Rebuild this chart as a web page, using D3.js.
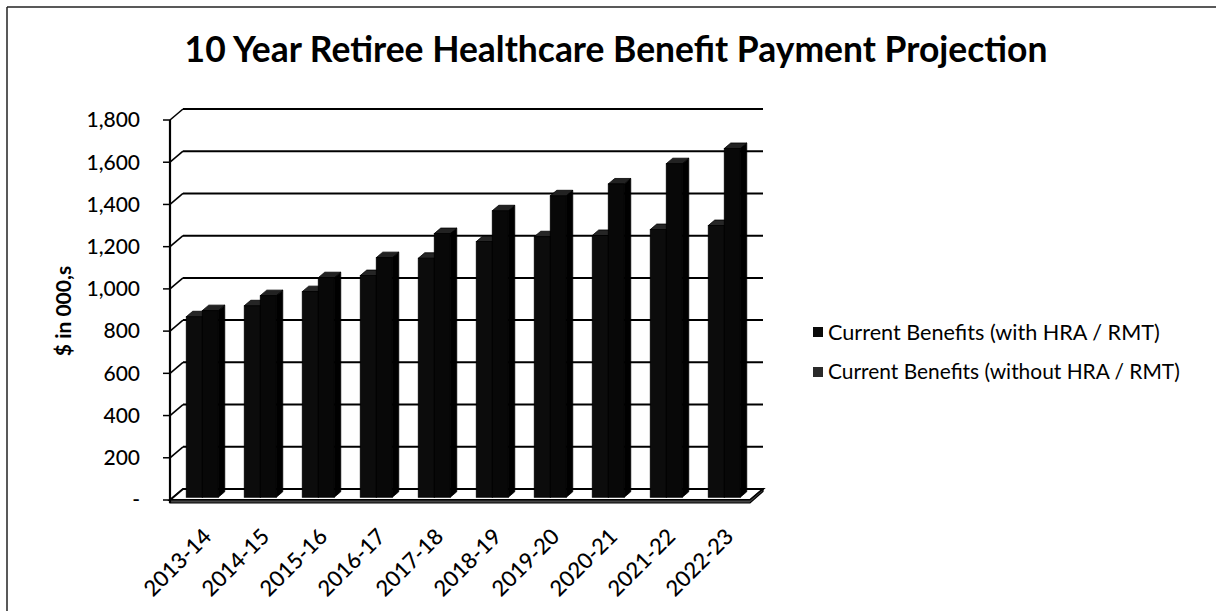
<!DOCTYPE html>
<html>
<head>
<meta charset="utf-8">
<script src="https://cdn.jsdelivr.net/npm/d3@7"></script>
<style>
  html, body { margin: 0; padding: 0; background: #fff; }
  svg { display: block; }
  text { font-family: Lato, "Open Sans", sans-serif; fill: #000; }
</style>
</head>
<body>
<svg id="chart" width="1216" height="611"></svg>
<script>
const titleText = "10 Year Retiree Healthcare Benefit Payment Projection";
const yAxisTitle = "$ in 000,s";
const categories = ["2013-14","2014-15","2015-16","2016-17","2017-18","2018-19","2019-20","2020-21","2021-22","2022-23"];
const seriesNames = ["Current Benefits (with HRA / RMT)", "Current Benefits (without HRA / RMT)"];
const withHRA    = [855, 907, 974, 1050, 1132, 1211, 1234, 1240, 1268, 1287];
const withoutHRA = [884, 955, 1040, 1135, 1249, 1357, 1428, 1484, 1580, 1652];
const yTicks = [0, 200, 400, 600, 800, 1000, 1200, 1400, 1600, 1800];

const svg = d3.select("#chart");

// frame
svg.append("line").attr("x1", 7).attr("y1", 7).attr("x2", 1216).attr("y2", 7)
  .attr("stroke", "#222").attr("stroke-width", 1.5);
svg.append("line").attr("x1", 7).attr("y1", 7).attr("x2", 7).attr("y2", 611)
  .attr("stroke", "#222").attr("stroke-width", 1.5);

function fitWidth(sel, target) {
  const w = sel.node().getComputedTextLength();
  const fs = parseFloat(sel.attr("font-size"));
  sel.attr("font-size", fs * target / w);
}

// title
const title = svg.append("text").attr("x", 616).attr("y", 62)
  .attr("text-anchor", "middle").attr("font-weight", "bold").attr("font-size", 34)
  .text(titleText);
fitWidth(title, 863);

// scales
const xLeft = 170, xRight = 750;
const x = d3.scaleBand().domain(categories).range([xLeft, xRight])
  .paddingInner(0.448).paddingOuter(0.224);
const xs = d3.scaleBand().domain([0, 1]).range([0, x.bandwidth()]);
const y = d3.scaleLinear().domain([0, 1800]).range([500, 120]);
const D = { dx: 13, dy: -11 };
const fr = { dx: D.dx * 0.25, dy: D.dy * 0.25 };
const bk = { dx: D.dx * 0.75, dy: D.dy * 0.75 };

const g = svg.append("g");

// back wall gridlines and left wall diagonals
yTicks.forEach(v => {
  const yy = y(v);
  if (v > 0) {
    g.append("line").attr("x1", xLeft + D.dx).attr("x2", xRight + D.dx)
      .attr("y1", yy + D.dy).attr("y2", yy + D.dy)
      .attr("stroke", "#000").attr("stroke-width", 2);
  }
  g.append("path")
    .attr("d", `M${xLeft},${yy} L${xLeft + D.dx},${yy + D.dy}`)
    .attr("stroke", "#000").attr("stroke-width", 1.6).attr("fill", "none");
  g.append("line").attr("x1", xLeft - 7).attr("x2", xLeft).attr("y1", yy).attr("y2", yy)
    .attr("stroke", "#000").attr("stroke-width", 1.5);
});

// floor
g.append("path")
  .attr("d", `M${xLeft},${y(0)} L${xRight},${y(0)} L${xRight + D.dx},${y(0) + D.dy} L${xLeft + D.dx},${y(0) + D.dy} Z`)
  .attr("fill", "#fff").attr("stroke", "#000").attr("stroke-width", 2);
g.append("path")
  .attr("d", `M${xLeft},${y(0)} L${xRight},${y(0)} L${xRight + D.dx},${y(0) + D.dy} L${xRight + D.dx},${y(0) + D.dy + 2.5} L${xRight},${y(0) + 3} L${xLeft},${y(0) + 3} Z`)
  .attr("fill", "#444").attr("stroke", "#000").attr("stroke-width", 1.2);

// left axis line
g.append("line").attr("x1", xLeft).attr("x2", xLeft).attr("y1", y(1800)).attr("y2", y(0) + 3)
  .attr("stroke", "#000").attr("stroke-width", 2.2);

// bars
const fills = [
  { front: "#0c0c0c", side: "#000", top: "#262626" },
  { front: "#080808", side: "#000", top: "#222" }
];
const series = [withHRA, withoutHRA];
categories.forEach((c, i) => {
  [0, 1].forEach(s => {
    const v = series[s][i];
    const x0 = x(c) + xs(s), x1 = x0 + xs.bandwidth();
    const yt = y(v), yb = y(0);
    const bars = g.append("g");
    bars.append("path")
      .attr("d", `M${x1 + fr.dx},${yt + fr.dy} L${x1 + bk.dx},${yt + bk.dy} L${x1 + bk.dx},${yb + bk.dy} L${x1 + fr.dx},${yb + fr.dy} Z`)
      .attr("fill", fills[s].side).attr("stroke", "#000").attr("stroke-width", 0.8);
    bars.append("path")
      .attr("d", `M${x0 + fr.dx},${yt + fr.dy} L${x0 + bk.dx},${yt + bk.dy} L${x1 + bk.dx},${yt + bk.dy} L${x1 + fr.dx},${yt + fr.dy} Z`)
      .attr("fill", fills[s].top).attr("stroke", "#000").attr("stroke-width", 0.8);
    bars.append("rect")
      .attr("x", x0 + fr.dx).attr("y", yt + fr.dy)
      .attr("width", xs.bandwidth()).attr("height", yb - yt)
      .attr("fill", fills[s].front).attr("stroke", "#000").attr("stroke-width", 0.8);
  });
});

// y tick labels
const fmt = d3.format(",");
svg.append("g").selectAll("text").data(yTicks).join("text")
  .attr("x", 140).attr("y", d => y(d)).attr("dy", "0.35em")
  .attr("text-anchor", "end").attr("font-size", 21).attr("font-weight", 500)
  .text(d => d === 0 ? "-" : fmt(d));

// y axis title
svg.append("text")
  .attr("transform", "translate(71,311) rotate(-90)")
  .attr("text-anchor", "middle").attr("font-weight", "bold").attr("font-size", 21)
  .text(yAxisTitle);

// x labels
svg.append("g").selectAll("text").data(categories).join("text")
  .attr("transform", d => `translate(${x(d) + x.bandwidth() / 2 + 3},${527}) rotate(-45)`)
  .attr("text-anchor", "end").attr("dy", "0.7em").attr("font-size", 22).attr("font-weight", 500)
  .text(d => d);

// legend
const legendColors = ["#0a0a0a", "#2a2a2a"];
const leg = svg.append("g");
seriesNames.forEach((n, i) => {
  const cy = 332 + i * 40;
  leg.append("rect").attr("x", 813).attr("y", cy - 5).attr("width", 10).attr("height", 10)
    .attr("fill", legendColors[i]);
  const t = leg.append("text").attr("x", 828).attr("y", cy).attr("dy", "0.35em")
    .attr("font-size", 20).text(n);
  fitWidth(t, i === 0 ? 332 : 352);
});
</script>
</body>
</html>
